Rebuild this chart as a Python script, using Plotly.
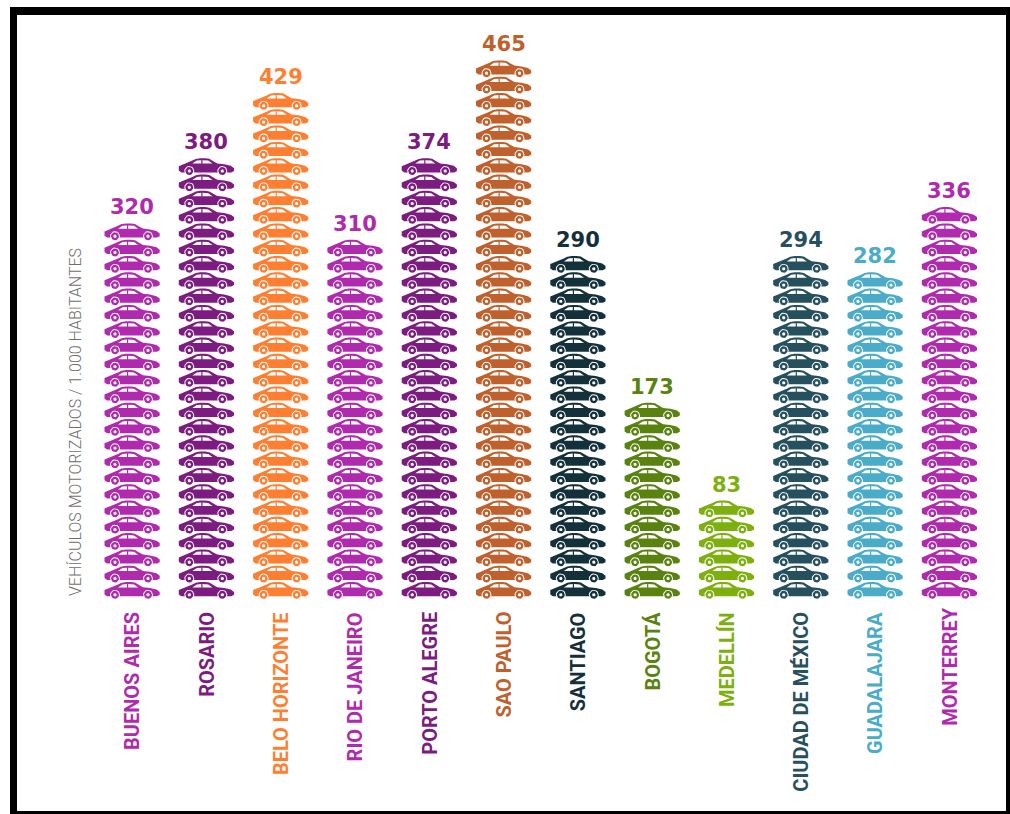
import math
import plotly.graph_objects as go

# Motor vehicles per 1,000 inhabitants, and how many car icons each city gets
cities = ["BUENOS AIRES", "ROSARIO", "BELO HORIZONTE", "RIO DE JANEIRO", "PORTO ALEGRE", "SAO PAULO",
          "SANTIAGO", "BOGOTÁ", "MEDELLÍN", "CIUDAD DE MÉXICO", "GUADALAJARA", "MONTERREY"]
vehicles_per_1000 = [320, 380, 429, 310, 374, 465, 290, 173, 83, 294, 282, 336]
car_icons = [23, 27, 31, 22, 27, 33, 21, 12, 6, 21, 20, 24]
city_colors = ["#B02AAE", "#7C1B80", "#FF7F32", "#B02AAE", "#7C1B80", "#C0602C",
               "#14303A", "#5A8210", "#7DB00F", "#27505F", "#4AACC8", "#B02AAE"]
axis_title = "VEHÍCULOS MOTORIZADOS / 1.000 HABITANTES"

W, H = 1010, 814
COL_PX, ROW_PX = 74.3, 16.3      # column pitch and icon stacking pitch
X0_PX, Y0_PX = 132.0, 599.0      # first column centre and stack baseline

# Car icon outline, in icon units (one unit = one screen pixel at this figure size)
BODY = [(-25, 2.8), (-27.5, 4.6), (-27.5, 9), (-23, 10.8), (-17.5, 12.4), (-14, 14.6), (-10.5, 16.3), (-6, 17),
        (-1, 17), (3, 16.4), (7, 14), (11, 11.8), (18, 11), (24.5, 9.4), (27.7, 7), (27.7, 4.2), (25, 2.8)]
WINDOW_REAR = [(-14, 11.6), (-5, 11.6), (-5, 15), (-9.5, 14.6)]
WINDOW_FRONT = [(-3.8, 11.6), (6.2, 11.6), (2, 14.6), (-3.8, 15)]
WHEEL_CENTERS = [(-17, 4.2), (16, 4.2)]


def circle(cx, cy, r, n=18):
    return [(cx + r * math.cos(2 * math.pi * k / n), cy + r * math.sin(2 * math.pi * k / n)) for k in range(n + 1)]


def stack(column, count, polygons):
    """Repeat icon polygons up a column, in data coordinates."""
    xs, ys = [], []
    for level in range(count):
        for poly in polygons:
            xs += [column + px / COL_PX for px, _ in poly] + [None]
            ys += [level + py / ROW_PX for _, py in poly] + [None]
    return xs, ys


def filled(xs, ys, color):
    return go.Scatter(x=xs, y=ys, mode="lines", fill="toself", fillcolor=color,
                      line=dict(width=0, color=color), hoverinfo="skip", showlegend=False)


fig = go.Figure()
for i, (count, color) in enumerate(zip(car_icons, city_colors)):
    fig.add_trace(filled(*stack(i, count, [BODY]), color))
    fig.add_trace(filled(*stack(i, count, [WINDOW_REAR, WINDOW_FRONT] + [circle(x, y, 5.0) for x, y in WHEEL_CENTERS]), "#FFFFFF"))
    fig.add_trace(filled(*stack(i, count, [circle(x, y, 4.0) for x, y in WHEEL_CENTERS]), color))
    fig.add_trace(filled(*stack(i, count, [circle(x, y, 1.7) for x, y in WHEEL_CENTERS]), "#FFFFFF"))

annotations = []
for i, (city, value, count, color) in enumerate(zip(cities, vehicles_per_1000, car_icons, city_colors)):
    annotations.append(dict(x=i, y=count - 1 + 17 / ROW_PX, text=f"<b>{value}</b>", showarrow=False,
                            xanchor="center", yanchor="bottom", yshift=2,
                            font=dict(family="DejaVu Sans", size=21, color=color)))
    annotations.append(dict(x=i, y=-11 / ROW_PX, text=f"<b>{city}</b>", showarrow=False, textangle=-90,
                            xanchor="center", yanchor="top", yshift=5 if city == "MONTERREY" else 0,
                            font=dict(family="Roboto", size=20, color=color)))
annotations.append(dict(xref="paper", yref="paper", x=75 / W, y=1 - 422 / H, text=axis_title, showarrow=False,
                        textangle=-90, xanchor="center", yanchor="middle",
                        font=dict(family="Roboto", size=16, color="#6E6E6E", weight=300)))

# Black frame, thicker on the left and top
frame = [(10, 7, 17, 814), (10, 7, 1010, 15), (1006, 7, 1010, 814), (10, 811, 1010, 814)]
shapes = [dict(type="rect", xref="paper", yref="paper", x0=a / W, x1=c / W, y0=1 - b / H, y1=1 - d / H,
               fillcolor="#000000", line=dict(width=0), layer="above") for a, b, c, d in frame]

fig.update_layout(
    width=W, height=H, margin=dict(l=0, r=0, t=0, b=0), paper_bgcolor="#FFFFFF", plot_bgcolor="#FFFFFF",
    showlegend=False, annotations=annotations, shapes=shapes,
    xaxis=dict(range=[-X0_PX / COL_PX, (W - X0_PX) / COL_PX], visible=False, fixedrange=True),
    yaxis=dict(range=[-(H - Y0_PX) / ROW_PX, Y0_PX / ROW_PX], visible=False, fixedrange=True),
)
fig.write_html("out.html")
